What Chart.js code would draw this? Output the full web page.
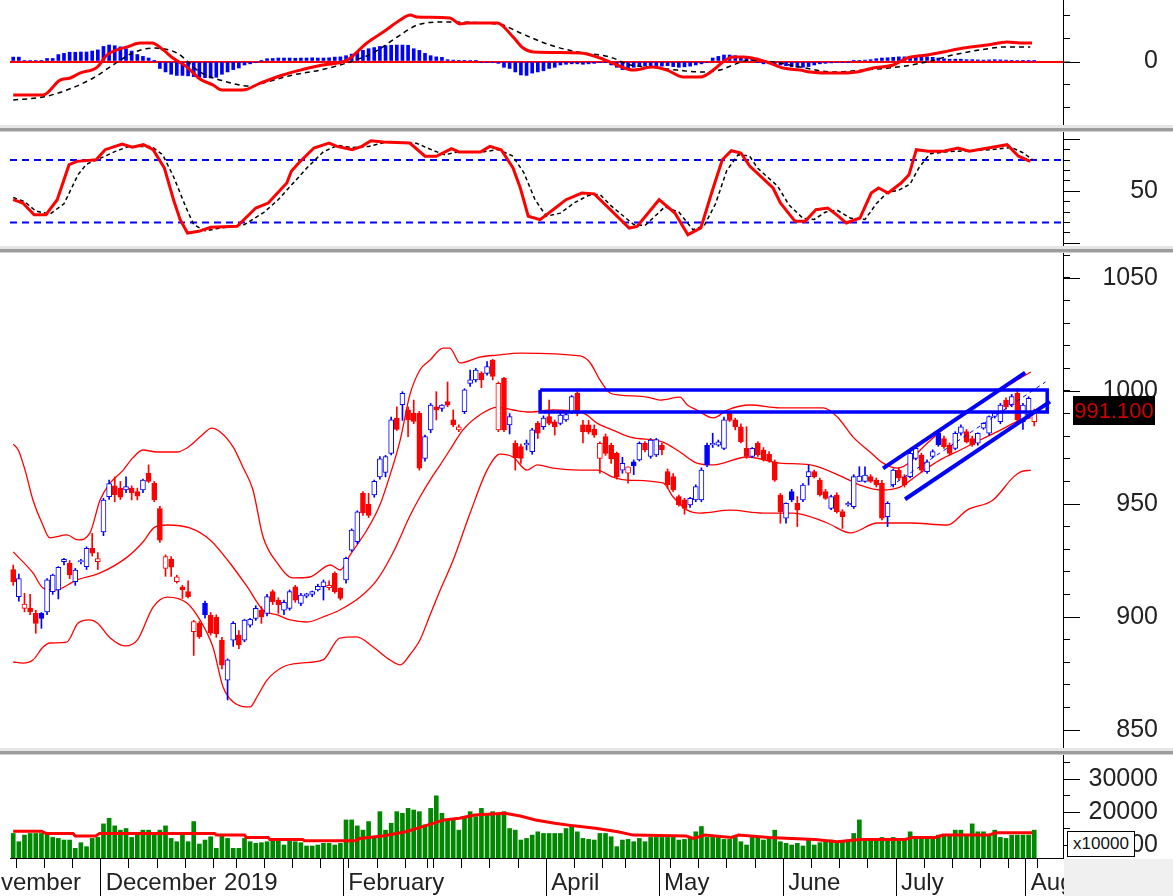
<!DOCTYPE html>
<html>
<head>
<meta charset="utf-8">
<title>Index chart</title>
<script src="https://cdn.jsdelivr.net/npm/chart.js@4/dist/chart.umd.min.js"></script>
<style>
  html, body { margin:0; padding:0; background:#fff; }
  body { width:1173px; height:896px; position:relative; overflow:hidden; font-family:'Liberation Sans', Arial, sans-serif; }
  canvas { position:absolute; left:0; }
  .sep { position:absolute; left:0; width:1173px; height:7px; z-index:2;
         background: linear-gradient(to bottom, #e6e6e6 0px, #e6e6e6 3px, #9c9c9c 3px, #9c9c9c 6px, #d0d0d0 6px, #d0d0d0 7px); }
  #corner { position:absolute; left:1064px; top:859px; width:109px; height:37px; background:#f0f0f0; z-index:3; }
  #mult { position:absolute; left:1067px; top:831px; width:66px; height:24px; border:1px solid #000; background:#fff; z-index:4;
          font-size:17px; line-height:24px; text-align:center; color:#111; }
</style>
</head>
<body>
<canvas id="cMacd" width="1173" height="125" style="top:0px"></canvas>
<div class="sep" style="top:125px"></div>
<canvas id="cStoch" width="1173" height="114" style="top:132px"></canvas>
<div class="sep" style="top:246px"></div>
<canvas id="cPrice" width="1173" height="495" style="top:253px"></canvas>
<div class="sep" style="top:748px"></div>
<canvas id="cVol" width="1173" height="141" style="top:755px"></canvas>
<div id="corner"></div>
<div id="mult">x10000</div>
<script>
// ===================== DATA =====================
const opens = [
921,909,903.8,904,901.6,901.6,902.3,911.2,912,924.5,
923.7,915.6,924.5,922.3,930.4,924.5,937.7,953.2,958,957,
956.2,957,955.5,956.2,963.6,959.2,948,921.5,925.5,915.6,
913.4,911.2,893.5,897.2,906,900.9,900,889.8,872.1,889.8,
892,889.8,896.4,899.4,903,901.6,911.2,907.5,903,903.8,
913.4,906,909.2,910,912,913.4,913,919.3,912.7,916.4,
929.6,933.3,954.7,950,954,962,964,972.4,988,994,
991.6,990.1,990.1,970.2,982.8,993,992.3,995.3,987.2,982.8,
990.9,1003.4,1004.9,1007.8,1007.8,1013.7,982.8,1005.6,985,976.9,
975.4,976.1,973.2,985.7,984.2,988.7,986.4,985.7,987.2,990.9,
999,985,985,983,970.2,979.8,976,972.4,965,963.6,
968.7,969.5,976.9,971,971.7,976,964.3,962.1,953.3,951.8,
949.6,951.8,951.8,976,976.1,976,974.6,990.1,987.2,984.2,
974.6,971,976.9,973.9,972,968.7,954,943.7,955.5,950.3,
951.8,962.1,964.3,960.6,955.5,948.1,954,946.6,949.6,948.8,
960,960,962.1,960.6,959.2,944.4,958.4,965,962.1,962.1,
970.2,971.7,964.3,971,981.3,979,976.1,974.6,981.3,982,
979,976.9,983.5,981.3,988.7,986.4,996,993.8,999,986.4,
989.4,986.4];
const highs = [
923,919,910.5,910,903,902,917,919,922.3,926,
925,921.5,925.5,931,937,928.5,952.5,960.6,962,960,
962,958,957,961,967.3,960,949,927.5,926.7,918.5,
914,916,898.5,898,907,902,901,891,881.5,898,
894,899,899.4,905,904.6,910,912,908.5,907.5,912,
914,910.5,910.5,911.5,914.5,916.4,916,920,913,926.5,
939,947,955.5,954.7,960.6,971,971.5,988.5,993,999.7,
993,996,991,980.5,994.5,999.7,994,1004,991.6,985,
1001,1009.3,1010,1008.5,1013,1014,1004,1006,990,978,
976.5,978.3,983.5,986.5,989,996,987.2,990,990.5,998,
1000.3,987,987,985,977.5,981,977,973,970.7,966.5,
969.5,977.5,977.6,979,979,977,965.5,963.5,954,952.5,
953,958.5,966,977,981.3,978.3,988.5,991,988,985.5,
984.2,975,977.6,975,973.2,969.5,954.7,950.5,956.5,953.3,
959,967.3,965,961.5,956.5,954,955,947.5,951,963,
966.5,966.5,963,961.5,960.5,951,965.5,966,963,973,
975.5,972.5,969.5,974,982,980,977,982,985,983,
980,981.5,986,989,990.5,994.5,997,998.5,1001,994.5,
997.5,992];
const lows = [
914,907,902.3,901,892.8,895,901,910,908,923,
917,914,923.5,921,927,921,936,952,951,952,
955,951.8,951.8,955,959.5,951,933,918,918,915,
908.2,908.5,883,890.5,899.5,892,891,877,863.3,887,
886,889,895.5,898.5,897.2,900.5,905.5,901.6,901,903,
906.5,905,908.5,909,911.5,907.5,912,910.5,907.5,915,
929,932.5,945,944,953,961,962,971.7,982.5,987,
979.8,985.5,965,969,981.5,987.2,991,993,984.2,982,
990,1002,1004,1001.5,1007,1004.9,982,982,981,965,
968,973.9,972,979,983,985,980.5,985,986.5,990,
989,977,981,979.5,963.6,971.5,968,961,963.6,959.2,
963,969,973,970.2,971,971.7,957,955.5,949,945.5,
948.5,951,951,966.5,975,975.5,974,986.5,982.8,977,
970.2,970.5,971,969,968.5,960,941.5,941.5,951,940,
951,958.4,961.5,953.5,952,947.5,946,939.2,949,948,
959.9,959.5,959.5,957.5,943,940,957.5,960.5,957.5,961.5,
969.5,964,963.5,970.5,975.5,974.6,971.7,974,980.5,977,
975.5,976,983,980.5,988,985.5,992,993,986,983,
988.5,984.5];
const closes = [
915.6,917,905.7,902.3,897.2,899.4,916.4,918.6,922,925.5,
918.6,920.8,925,930.4,928.2,925.9,951.7,959,954,953,
957.7,955,953.5,960.6,960,951.8,934,926.7,922,917.8,
912,909,898,891.3,900.9,892.8,892.5,878.7,881,897.2,
887.6,898.6,899,903.8,900,909,906.8,905.5,906.5,911.2,
907.5,909.7,910.3,911.2,913.6,915.6,914,911.2,908.2,926,
938.5,946.5,946,945,960,970,971,987.2,983,999,
987.2,986.5,965.8,979.8,993.8,991.6,993.8,993.7,985,984.2,
1000.5,1004.9,1009.3,1004.9,1010.8,1006.4,1003.4,982.8,988.7,970.5,
970.2,976.9,982.8,981.3,988,985.7,984.2,989.4,989.6,997.5,
990.1,982,981.8,980.5,976.9,972.4,970,962.1,968,966.5,
967,976.9,973.9,978.3,978.5,973.9,958.4,956.2,949.6,948.1,
952.5,957.7,965,967.3,976.9,977.5,987.2,987,984.2,977.6,
971,974.6,971.7,969.5,969.2,960.6,946.6,950.3,951.8,947.4,
958.4,964.3,962.1,954,952.5,953.3,946.6,944.4,950.3,962.1,
962.4,962.8,960,958.4,943.7,950.3,965,961.4,958.4,972.4,
974.6,965,968.7,973.2,976.1,975.4,972.4,981.3,984.2,977.5,
976.1,981.3,985.7,988.7,990.1,993.8,993.1,997.5,987.2,993.8,
996.8,991.1];
const volumes = [
13500,11000,13000,13500,13500,13500,13000,12300,12000,11500,
11500,9000,10700,9500,12000,12300,16400,18100,15800,14500,
15000,12300,13500,14500,14500,13500,14500,15800,12000,11000,
13000,11000,17100,10300,11500,12500,9000,13000,12000,9000,
9000,12000,11000,10500,10700,11000,11300,11300,10000,11300,
11000,10700,9700,9700,10000,10500,10500,10000,10500,17600,
17600,15800,14500,17100,12500,20100,14500,16600,20100,19600,
21100,20600,20100,16100,21100,24900,19600,17600,17600,14500,
18600,20100,18600,21100,19100,20100,19600,20100,15000,14500,
11500,12000,13000,14000,13500,13500,13500,13500,15000,15600,
14000,12000,11700,11500,13500,13500,12500,9500,11500,11700,
11000,12000,11000,12300,12300,12300,12300,12300,11500,11700,
12300,14000,15600,12300,12300,12300,11700,11700,12300,11000,
10000,12300,12300,11500,12300,14500,11000,10500,10000,10500,
9700,11500,10000,10700,11000,11500,10700,11000,11500,13500,
17600,11700,11500,12000,12300,11700,12300,11700,11500,14000,
12000,12300,12300,12300,13000,13000,13000,14500,14500,13000,
16400,14000,14000,13000,14500,12300,12000,13000,13000,13000,
13000,14500];
// [bar index, value] readings of the indicator lines
const volumeMA = [[0,14200],[5,14200],[5.8,13500],[10.6,13500],[11,12700],[14.6,12700],[15.3,13500],[35.7,13500],[36,13000],[41,13000],[41.3,12300],[45.2,12300],[45.5,11700],[51.3,11700],[51.6,11300],[60.8,11300],[61.4,12000],[65.5,12700],[69.6,14000],[72.3,15400],[76.4,17600],[79.1,18100],[81.8,19100],[87.2,19600],[89.9,18800],[92.6,17600],[96,16600],[99.4,15800],[103.2,15100],[107.2,14000],[109.9,13000],[119.3,12700],[120.6,12000],[122.6,13000],[127.3,12300],[128.6,13000],[134,12300],[142.1,11700],[146.1,11000],[150.1,11700],[158.1,11700],[159.5,12300],[163.5,12300],[164.8,13000],[172.9,13000],[174.2,13700],[180.6,13700]];
const bbUpper = [[0,976.5],[0.9,973.9],[2.1,965],[3.5,951.8],[5.1,941.6],[6.5,935],[9.5,936.3],[11.5,934.1],[13.6,937.2],[15.4,951.8],[17.2,959.3],[19.5,965],[21.2,970.4],[23,973.9],[25.5,973],[29,973],[30.8,974.8],[33.1,979.6],[35.2,983.6],[36.7,981.9],[39,975.2],[40.7,966.4],[42.5,956.2],[44.3,935.4],[46.8,923.9],[49.6,917.3],[52.6,917.7],[56.2,923],[58,920.8],[59.7,927.4],[62.7,938.5],[65,949.6],[66.8,962.8],[68.6,978.3],[70.3,998.2],[72.1,1009.3],[73.9,1013.7],[76.2,1019],[77.4,1019],[79.2,1012.4],[82.7,1015],[85.8,1015.9],[89.9,1016.8],[100.5,1015.5],[102.3,1012.4],[104,1004.9],[105.8,999.1],[107.6,998.2],[112.4,997.3],[114.7,996],[118.2,997.3],[119.5,993.8],[121.2,991.6],[124.1,988.1],[126.6,991.6],[130.6,993.8],[135.9,992.5],[143.6,992.5],[146.1,988.5],[148.9,979.6],[151.9,973],[154.2,968.1],[156.7,965.9],[159,968.6],[160.8,973.9],[164.3,981.9],[167.9,988.9],[171.4,995.1],[175,1000.4],[178.6,1005.8],[180.4,1008.4]];
const bbMiddle = [[0,928.8],[3.5,919.5],[5.3,912.8],[7.4,911.9],[11.3,916.4],[15.4,919.5],[20.2,926.5],[23,933.2],[25.1,939.8],[27.3,940.7],[31.3,939.4],[34.9,934.1],[38.4,923.9],[41.5,913.3],[44.3,903.1],[46.8,900.9],[49.1,898.7],[52.1,897.8],[54.9,900],[57.9,903.1],[61.5,908.8],[64.5,916.4],[67.3,928.3],[70.4,945.1],[72.1,953.1],[73.9,960.6],[75.7,967.3],[77.4,973.9],[79.7,982.7],[82.7,989.4],[85.8,992.9],[88.6,991.6],[91.6,990.7],[95.7,991.6],[101,990.3],[103.5,985.8],[106.3,982.7],[109.4,979.6],[115.2,977.4],[118.2,973],[121.2,968.1],[124.1,967.3],[130.1,970.8],[135.9,968.1],[141.3,967.3],[147.1,961.9],[150.1,958.4],[153.7,956.2],[157.2,957.5],[160.8,963.7],[164.3,969.5],[167.9,973.9],[171.4,978.3],[175,982.7],[178.6,987.2],[180.4,988.1]];
const bbLower = [[0,880.1],[1.7,879.6],[3.5,881],[5.3,886.7],[6.5,888.5],[9.5,888.9],[11.5,897.3],[13.6,898.7],[14.9,897.3],[17.2,890.7],[19.8,887.2],[22,889.8],[24.8,904.4],[27.3,908.8],[30.8,906.2],[33.1,898.7],[35.4,886.7],[37.2,869],[39,862.4],[42,860.2],[43.2,864.6],[45,872.1],[47.8,877.9],[50.9,879.6],[54.9,881],[57.9,890.7],[60.9,891.2],[63.8,886.7],[66.8,881],[68.6,878.8],[70.3,883.2],[72.1,889.8],[73.9,900.9],[75.7,911.9],[78,925.2],[81,946],[84,965],[86.3,972.1],[88.6,970.8],[91.1,965],[92.9,967.3],[95.7,965.9],[100.5,965],[103.5,965],[106.3,961.9],[108.8,960.6],[115.2,959.3],[117,953.1],[119.5,947.3],[121.8,946],[127.1,947.3],[132.9,946],[138.3,946],[144.3,941.6],[148.4,937.2],[153.2,941.6],[159,941.6],[165.6,940.7],[169.1,947.3],[173.7,951.8],[177.3,961.9],[178.6,964.2],[180.4,965]];
const macdLine = [[0,-14.4],[5.3,-14.4],[8.3,-8],[10.1,-7.1],[11.8,-5],[14.9,-2.4],[16.6,2.8],[18.4,5],[20.2,6.3],[22.5,8],[24.6,8],[26.6,5],[28.3,1.5],[30.8,-2.4],[33.1,-7.5],[35.4,-10.1],[37,-12.3],[40.7,-12.3],[43.8,-9.3],[47.8,-5.8],[50.9,-3.7],[54.9,-1.5],[59.2,0.6],[62.7,8],[65.6,12.7],[68.6,17.9],[70.4,20],[71.6,19.2],[77.4,18.8],[79.2,16.2],[80.5,16.6],[85.8,16.6],[88.6,10.6],[90.4,5.8],[92.2,4.1],[100.5,3.7],[104,1.5],[107,-1.5],[109.9,-3.7],[113.4,-2.4],[115.9,-3.7],[118.8,-6.7],[121.8,-6.7],[124.1,-3.7],[125.8,-0.2],[127.6,1.9],[129.4,1.9],[133.6,-0.2],[136.5,-2.8],[139.5,-3.7],[141.3,-4.5],[145.4,-5],[149.6,-4.5],[152.4,-2.8],[156,-1.5],[158.5,1.5],[162,2.8],[164.9,4.1],[168.4,5.8],[172.7,7.1],[176.2,8.4],[178.5,8],[180.6,8]];
const macdSignal = [[0,-16.6],[5.3,-15.3],[9.5,-12.3],[14.2,-7.1],[17.7,-1.5],[21.2,3.7],[24.8,5.8],[29,3.7],[33.1,-4.5],[37.9,-8.8],[42,-10.6],[45,-8.8],[49.6,-5.8],[54.4,-3.7],[59.7,-0.2],[63.8,3.7],[68.6,11.4],[71.6,15.7],[76.2,17],[83.3,16.6],[86.8,15.7],[89.9,12.3],[95.2,7.1],[100,4.1],[105.8,1.9],[109.4,-1.5],[112.9,-2.4],[117.7,-3.7],[121.8,-4.5],[125.3,-3.7],[127.6,-1.5],[130.6,0.6],[134.7,-0.2],[139.5,-2.4],[145.4,-4.5],[150.7,-3.7],[156.7,-2.4],[162,-0.2],[166.6,2.8],[171.4,5],[176.2,6.3],[180.3,6.3]];
const macdHist = [
1.9,1.9,0.4,0.4,0.4,0.5,1.3,1.3,3,3.5,
4,4,4.1,4.1,4.5,5,6.5,7.1,6.8,6.3,
5.5,4.5,3,2.2,1.5,0.2,-3,-4.5,-5.5,-6,
-6,-6.2,-6.5,-6.8,-7,-7.1,-6.8,-5.5,-4.5,-3.5,
-2.8,-1.5,-1,-0.3,0.2,1.2,1.3,1.5,1.5,1.5,
1.4,1.5,1.5,1.6,1.5,1.5,1.6,1.9,2,2.5,
3.2,4,4.8,5.5,6,6.5,6.8,7,7.1,7.1,
7,5.5,4.8,3.5,2.5,2,1.8,0.8,0.6,0.5,
0.5,0.4,0.3,-0.3,-0.5,-0.5,-0.8,-2.5,-3,-4.5,
-5.8,-6,-5,-4.5,-4,-3,-2.5,-1.5,-1.2,-1,
-1,-1.2,-1,-0.8,-0.5,-0.3,-1.5,-2.5,-3.5,-3.2,
-2.5,-2,-2,-1.8,-2,-2,-1.8,-2.2,-2.5,-2.3,
-2,-1.5,-1,-0.5,1.5,2.2,2.8,2.8,2.5,2,
1.5,1,-0.5,-1,-1,-1.2,-1.5,-1.8,-2.3,-2.5,
-2.5,-2.2,-1.5,-1,-0.8,-0.6,-0.5,-0.5,-0.3,0.3,
0.5,0.6,0.8,1.2,1.5,1.6,1.8,2,2,2.2,
2.2,2,2,1.8,1.5,1.2,1,1,1,0.8,
0.8,0.7,0.6,0.7,0.8,0.7,0.6,0.5,0.4,0.3,
0.2,0.2];
const stochK = [[0,41.9],[1.7,38.7],[3.7,27.5],[5.8,27.5],[7.8,41.9],[9.9,75.5],[11.3,78.7],[14.7,80.3],[16.3,89.9],[19.3,95.4],[21.1,92.2],[23.1,94.7],[24.8,89.9],[26.8,72.3],[28.5,40.3],[29.6,22.7],[30.9,9.9],[32.9,11.5],[35,15.4],[39.7,16.3],[43,33.9],[45.2,38.7],[48.5,57.9],[49.3,69.2],[50.6,77.1],[53.3,91.5],[56,96.3],[57.4,93.1],[60.1,89.9],[61.8,93.1],[63.4,98.5],[65.6,97.3],[70.3,96.3],[73,83.6],[75,83.6],[77.7,90.8],[79,87.7],[82.8,87.7],[84.5,93.1],[86.5,89.9],[88.6,72.3],[89.9,53.1],[91.3,26],[93.4,22.7],[96.1,33.9],[98,41.9],[100.8,48.3],[103,47.5],[109.2,14.7],[110.6,16.3],[114.5,41.9],[117.3,29.1],[119.6,8.3],[121.9,14.7],[123.9,50],[125.7,80.3],[127.3,88.9],[129,86.7],[130.6,73.9],[134.7,53.1],[136,38.7],[138.6,21.1],[140.4,21.1],[142.3,32.3],[144.4,33.9],[146.1,26.9],[147.7,19.5],[150.1,24.3],[152.1,48.3],[153.4,53.1],[155.1,48.3],[157.4,57.9],[158.8,65.9],[160.1,89.9],[162.2,88.4],[164.9,88.4],[167.5,91.5],[169.5,88.4],[172.8,91.5],[176.2,94.7],[178.2,83.6],[180.3,78.7]];
const stochD = [[0,44],[2,40],[4,31],[6.5,28],[9,38],[11.5,66],[13,76],[16,83],[18,88],[20.5,93],[22.5,93],[24.5,93],[26.5,85],[28.5,63],[30.5,36],[32,18],[34,12],[36.5,14.5],[41,18],[44.5,30],[47,42],[50,60],[52,72],[55,88],[57.5,94],[60,92],[63,93],[66,97],[71.5,96],[74.5,89],[76.5,85],[79,88],[83.5,88],[86,90],[88.5,84],[90.5,68],[92.5,42],[94.5,26],[97,29],[99.5,39],[102,46],[104,47],[106,36],[110,18],[112,17],[115.5,35],[118,30],[120.5,13],[122.5,17],[124.5,38],[126.5,70],[128.5,85],[130.5,84],[132,72],[135.5,55],[137.5,37],[140,24],[142,23],[144,30],[146,32],[148.5,24],[151,23],[153,38],[155,49],[157,51],[159,57],[160.5,72],[162.5,86],[165.5,88],[170,89],[173.5,90],[177,92],[179,87],[180.8,80]];
const stochLevels = [20, 80];
// drawn annotations, in [bar index, price]
const resistanceBox = [[93.4,1000.4],[183.3,1000.4],[183.3,990.7],[93.4,990.7],[93.4,1000.4]];
const channelUpper = [[154.2,965.8],[179.4,1008.1]];
const channelLower = [[158.1,952.1],[183.8,995.3]];
const channelMid = [[155.5,957.8],[183,1004]];
// axis ticks
const monthTickPos = [-8.5,15.5,36.5,58.5,94.5,114.5,136.5,156.5,179.5];
const monthTickLabels = ['November','December','2019','February','April','May','June','July','Aug'];
const weekTickPos = [0.5,5.5,10.5,20.5,25.5,30.5,35.5,39.5,44.5,49.5,54.5,59.5,64.5,69.5,73.5,74.5,79.5,84.5,89.5,99.5,104.5,108.5,116.5,121.5,126.5,131.5,141.5,146.5,151.5,161.5,166.5,171.5,176.5,181.5];
const macdTickVals = [-20,-10,0,10,20];
const macdLabelVals = [0];
const stochTickVals = [0,10,20,30,40,50,60,70,80,90,100];
const stochLabelVals = [50];
const priceTickVals = [850,860,870,880,890,900,910,920,930,940,950,960,970,980,990,1000,1010,1020,1030,1040,1050,1060];
const priceLabelVals = [850,900,950,1000,1050];
const volTickVals = [10000,15000,20000,25000,30000,35000];
const volLabelVals = [10000,20000,30000];

// ===================== RENDER =====================
const FONT = "'Liberation Sans', Arial, sans-serif";
Chart.defaults.font.family = FONT;
Chart.defaults.font.size = 24;
Chart.defaults.color = '#222';

const X_MIN = -0.57, X_MAX = 186.1;
const RED = '#ff0000', BLUE = '#0000ff';
const xy = arr => arr.map(p => ({x: p[0], y: p[1]}));
const candleColor = closes.map((c, i) => c >= (i > 0 ? closes[i - 1] : opens[i]) ? BLUE : RED);
const candleFill = closes.map((c, i) => c >= opens[i] ? '#ffffff' : candleColor[i]);

function rightAxis(min, max, tickVals, labelVals, fmt) {
  return {
    type: 'linear', position: 'right', min, max,
    afterBuildTicks: s => { s.ticks = tickVals.map(v => ({value: v})); },
    afterFit: s => { s.width = 95; s.paddingTop = 0; s.paddingBottom = 0; },
    ticks: { autoSkip: false, crossAlign: 'far', padding: 0, color: '#222', font: {size: 25},
             callback: v => labelVals.includes(v) ? fmt(v) : '' },
    grid: { drawOnChartArea: false, drawTicks: true, tickLength: 7, tickColor: '#000', tickWidth: 1 },
    border: { display: true, color: '#000', width: 1 }
  };
}
function hiddenX() {
  return { type: 'linear', min: X_MIN, max: X_MAX, display: false, offset: false, grid: {offset: false} };
}
function baseOptions(scales, pluginOpts) {
  return {
    responsive: false, animation: false, events: [],
    layout: { padding: {left: 10, right: 15, top: 0, bottom: 0}, autoPadding: false },
    plugins: Object.assign({ legend: {display: false}, tooltip: {enabled: false} }, pluginOpts),
    scales
  };
}
const longTicks = {
  id: 'longTicks',
  afterDraw(chart, args, opts) {
    const s = chart.scales.y, ctx = chart.ctx;
    ctx.save(); ctx.strokeStyle = '#000'; ctx.lineWidth = 1;
    (opts.values || []).forEach(v => {
      const y = Math.round(s.getPixelForValue(v)) + 0.5;
      ctx.beginPath(); ctx.moveTo(s.left, y); ctx.lineTo(s.left + 17, y); ctx.stroke();
    });
    ctx.restore();
  }
};
const lastPriceTag = {
  id: 'lastPriceTag',
  afterDraw(chart, args, opts) {
    const s = chart.scales.y, ctx = chart.ctx;
    const y = s.getPixelForValue(opts.value);
    ctx.save();
    ctx.fillStyle = '#000';
    ctx.fillRect(s.left + 10, Math.round(y) - 15, 82, 29);
    ctx.fillStyle = '#cc0000';
    ctx.font = '22px ' + FONT; ctx.textAlign = 'center'; ctx.textBaseline = 'middle';
    ctx.fillText(opts.text, s.left + 51, y + 1);
    ctx.restore();
  }
};
const lineDs = (data, color, width, extra) => Object.assign(
  { type: 'line', data: xy(data), borderColor: color, borderWidth: width, pointRadius: 0, fill: false, tension: 0 }, extra || {});

// ---- MACD ----
const macdY = rightAxis(-27.37, 26.51, macdTickVals, macdLabelVals, v => String(v));
macdY.grid = { drawOnChartArea: true, drawTicks: true, tickLength: 7, tickColor: '#000', tickWidth: 1,
               color: c => (c.tick && c.tick.value === 0) ? RED : 'rgba(0,0,0,0)',
               lineWidth: c => (c.tick && c.tick.value === 0) ? 2 : 1 };
new Chart(document.getElementById('cMacd'), {
  type: 'bar',
  data: { datasets: [
    lineDs(macdLine, RED, 3, { cubicInterpolationMode: 'monotone', order: 0 }),
    lineDs(macdSignal, '#000', 1.5, { borderDash: [5, 4], cubicInterpolationMode: 'monotone', order: 1 }),
    { type: 'bar', data: macdHist.map((v, i) => ({x: i, y: v})), backgroundColor: BLUE, barThickness: 3, grouped: false, order: 2 }
  ]},
  options: baseOptions({ x: hiddenX(), y: macdY }, { longTicks: {values: macdLabelVals} }),
  plugins: [longTicks]
});

// ---- Stochastic ----
new Chart(document.getElementById('cStoch'), {
  type: 'line',
  data: { datasets: [
    lineDs(stochK, RED, 3, { order: 0 }),
    lineDs(stochD, '#000', 1.5, { borderDash: [4, 3], order: 1 }),
    ...stochLevels.map(l => lineDs([[X_MIN, l], [X_MAX, l]], BLUE, 2, { borderDash: [7, 5], order: 2 }))
  ]},
  options: baseOptions({ x: hiddenX(), y: rightAxis(-2.56, 106.88, stochTickVals, stochLabelVals, v => String(v)) },
                       { longTicks: {values: [0, 50, 100]} }),
  plugins: [longTicks]
});

// ---- Price ----
new Chart(document.getElementById('cPrice'), {
  type: 'bar',
  data: { datasets: [
    ...[bbUpper, bbMiddle, bbLower].map(b => lineDs(b, RED, 1.3, { cubicInterpolationMode: 'monotone', order: 5 })),
    { type: 'bar', data: closes.map((c, i) => ({x: i, y: [lows[i], highs[i]]})), backgroundColor: candleColor,
      barThickness: 1, grouped: false, order: 4 },
    { type: 'bar', data: closes.map((c, i) => ({x: i, y: [Math.min(opens[i], c), Math.max(opens[i], c)]})),
      backgroundColor: candleFill, borderColor: candleColor, borderWidth: 1, borderSkipped: false,
      barThickness: 5, grouped: false, order: 3 },
    lineDs(channelMid, BLUE, 1, { borderDash: [4, 4], order: 1 }),
    lineDs(resistanceBox, BLUE, 3.5, { borderJoinStyle: 'miter', order: 0 }),
    lineDs(channelUpper, BLUE, 4, { order: 0 }),
    lineDs(channelLower, BLUE, 4, { order: 0 })
  ]},
  options: baseOptions({ x: hiddenX(), y: rightAxis(842.04, 1061.06, priceTickVals, priceLabelVals, v => String(v)) },
                       { longTicks: {values: priceLabelVals},
                         lastPriceTag: {value: closes[closes.length - 1], text: closes[closes.length - 1].toFixed(3)} }),
  plugins: [longTicks, lastPriceTag]
});

// ---- Volume ----
new Chart(document.getElementById('cVol'), {
  type: 'bar',
  data: { datasets: [
    lineDs(volumeMA, RED, 3, { order: 0, xAxisID: 'x' }),
    { type: 'bar', xAxisID: 'x', data: volumes.map((v, i) => ({x: i, y: v})), backgroundColor: '#008800',
      barThickness: 4, grouped: false, order: 1 }
  ]},
  options: baseOptions({
    x: { type: 'linear', axis: 'x', position: 'bottom', weight: 1, min: X_MIN, max: X_MAX, offset: false,
         afterBuildTicks: s => { s.ticks = monthTickPos.map(v => ({value: v})); },
         afterFit: s => { s.height = 38; s.paddingLeft = 0; s.paddingRight = 0; },
         ticks: { autoSkip: false, maxRotation: 0, minRotation: 0, align: 'start', labelOffset: 5, padding: -27,
                  color: '#222', font: {size: 24}, callback: (v, i) => monthTickLabels[i] },
         grid: { offset: false, drawOnChartArea: false, drawTicks: true, tickLength: 38, tickWidth: 1,
                 tickColor: c => (c.tick && c.tick.label === '2019') ? 'rgba(0,0,0,0)' : '#000' },
         border: { display: true, color: '#000', width: 1 } },
    xw: { type: 'linear', axis: 'x', position: 'bottom', weight: 0, min: X_MIN, max: X_MAX, offset: false,
          afterBuildTicks: s => { s.ticks = weekTickPos.map(v => ({value: v})); },
          afterFit: s => { s.height = 0; s.paddingLeft = 0; s.paddingRight = 0; },
          ticks: { display: false, autoSkip: false },
          grid: { offset: false, drawOnChartArea: false, drawTicks: true, tickLength: 10, tickColor: '#000' },
          border: { display: false } },
    y: rightAxis(6061, 37273, volTickVals, volLabelVals, v => String(v))
  }, { longTicks: {values: volLabelVals} }),
  plugins: [longTicks]
});
</script>
</body>
</html>
